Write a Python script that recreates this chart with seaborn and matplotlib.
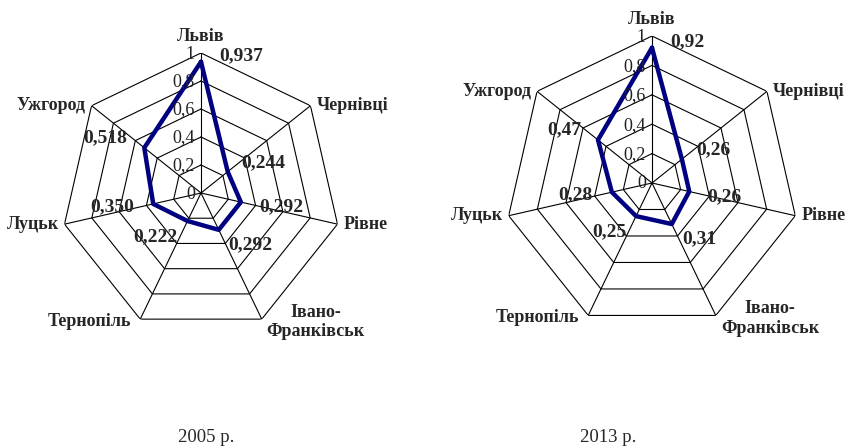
import numpy as np
import pandas as pd
import matplotlib
matplotlib.use("Agg")
import matplotlib.pyplot as plt
import seaborn as sns

# Categories (cities), clockwise from the top
cities = ['Львів', 'Чернівці', 'Рівне', 'Івано-\nФранківськ', 'Тернопіль', 'Луцьк', 'Ужгород']
values_2005 = [0.937, 0.244, 0.292, 0.292, 0.222, 0.350, 0.518]
values_2013 = [0.92, 0.26, 0.26, 0.31, 0.25, 0.28, 0.47]
labels_2005 = ['0,937', '0,244', '0,292', '0,292', '0,222', '0,350', '0,518']
labels_2013 = ['0,92', '0,26', '0,26', '0,31', '0,25', '0,28', '0,47']
rings = [0.2, 0.4, 0.6, 0.8, 1.0]
ring_labels = ['0', '0,2', '0,4', '0,6', '0,8', '1']
captions = ['2005 р.', '2013 р.']

sns.set_style('white')
plt.rcParams['font.family'] = ['Liberation Serif', 'DejaVu Serif']

LINE_COLOR = '#000080'

# offsets (pixels) for value labels and category labels
val_offsets = [(18, 6), (14, 9), (18, -5), (10, -15), (-10, -16), (-19, -3), (-17, 10)]
cat_offsets = [(0, 17), (6, 0), (6, 0), (5, -3), (-9, -2), (-6, 0), (-6, 0)]
cat_align = ['center', 'left', 'left', 'left', 'right', 'right', 'right']


def radar(ax, values, labels):
    n = len(cities)
    theta = np.arange(n) * 2 * np.pi / n
    ax.set_theta_zero_location('N')
    ax.set_theta_direction(-1)
    ax.set_ylim(0, 1)
    ax.grid(False)
    ax.spines['polar'].set_visible(False)
    ax.set_xticks([])
    ax.set_yticks([])
    ax.patch.set_alpha(0)

    closed = np.append(theta, theta[0])
    for r in rings:
        ax.plot(closed, [r] * len(closed), color='black', lw=0.8)
    for t in theta:
        ax.plot([t, t], [0, 1], color='black', lw=0.8)

    for r, lab in zip([0] + rings, ring_labels):
        ax.annotate(lab, (0, r), xytext=(-6, -1), textcoords='offset pixels',
                    ha='right', va='center', fontsize=13, color='#222222')

    df = pd.DataFrame({'theta': closed, 'value': np.append(values, values[0])})
    sns.lineplot(data=df, x='theta', y='value', sort=False, ax=ax,
                 color=LINE_COLOR, lw=3.2, estimator=None)
    ax.set_xlabel('')
    ax.set_ylabel('')

    for t, v, lab, (dx, dy) in zip(theta, values, labels, val_offsets):
        ax.annotate(lab, (t, v), xytext=(dx, dy), textcoords='offset pixels',
                    ha='left' if dx > 0 else 'right', va='center',
                    fontsize=14, fontweight='bold')

    for t, name, (dx, dy), al in zip(theta, cities, cat_offsets, cat_align):
        ax.annotate(name, (t, 1), xytext=(dx, dy), textcoords='offset pixels',
                    ha=al, va='center', fontsize=13, fontweight='bold',
                    multialignment='center', annotation_clip=False)


fig = plt.figure(figsize=(8.53, 4.48), dpi=100)
W, H = 853, 448
ax1 = fig.add_axes([61 / W, 115 / H, 280 / W, 280 / H], projection='polar')
radar(ax1, values_2005, labels_2005)
ax2 = fig.add_axes([505 / W, 118 / H, 294 / W, 294 / H], projection='polar')
radar(ax2, values_2013, labels_2013)

fig.text(206 / W, 1 - 437 / H, captions[0], ha='center', va='center', fontsize=13.5)
fig.text(608 / W, 1 - 437 / H, captions[1], ha='center', va='center', fontsize=13.5)

fig.savefig('out.png', dpi=100)
